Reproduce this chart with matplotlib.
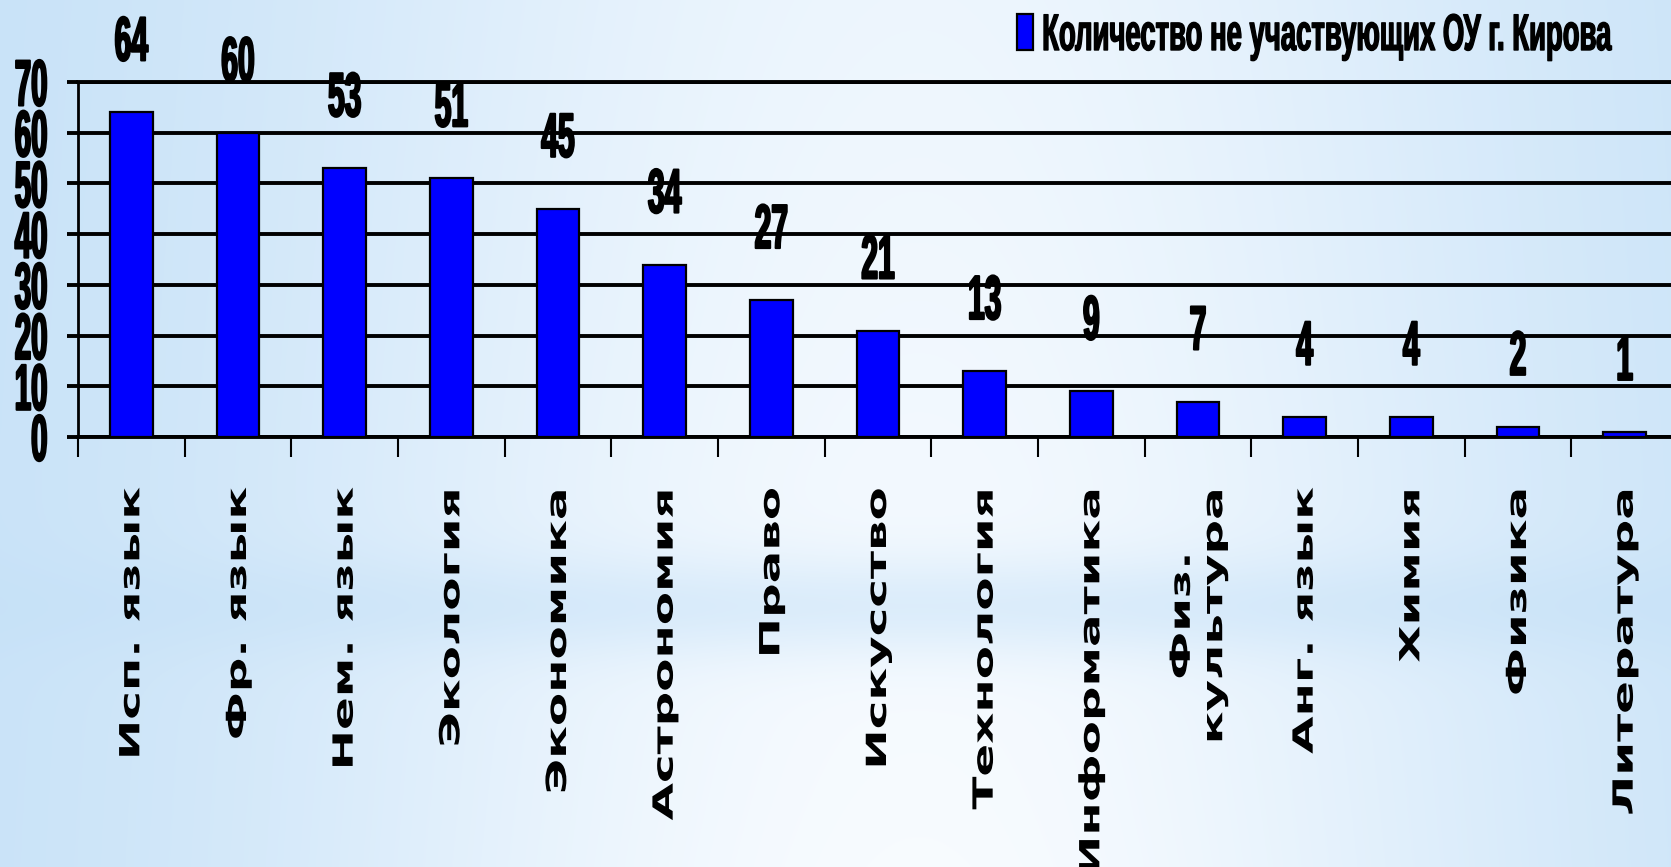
import numpy as np
import matplotlib
matplotlib.use("Agg")
import matplotlib.pyplot as plt
from matplotlib import patheffects
from matplotlib.transforms import Affine2D, ScaledTranslation

subjects = ["Исп. язык", "Фр. язык", "Нем. язык", "Экология", "Экономика",
            "Астрономия", "Право", "Искусство", "Технология", "Информатика",
            "Физ.\nкультура", "Анг. язык", "Химия", "Физика", "Литература"]
counts = [64, 60, 53, 51, 45, 34, 27, 21, 13, 9, 7, 4, 4, 2, 1]
y_ticks = [0, 10, 20, 30, 40, 50, 60, 70]
series_name = "Количество не участвующих ОУ г. Кирова"


class Stretch(patheffects.AbstractPathEffect):
    # squeeze / widen the drawn glyphs around the text's anchor point,
    # optionally with an outline to make them heavier
    def __init__(self, text, sx=1.0, sy=1.0, stroke=0.0):
        super().__init__()
        self.text = text
        self.sx, self.sy = sx, sy
        self.stroke = stroke

    def draw_path(self, renderer, gc, tpath, affine, rgbFace=None):
        px, py = self.text.get_transform().transform(self.text.get_position())
        t = affine + Affine2D().translate(-px, -py).scale(self.sx, self.sy).translate(px, py)
        gc0 = renderer.new_gc()
        gc0.copy_properties(gc)
        if self.stroke and rgbFace is not None:
            gc0.set_linewidth(self.stroke)
            gc0.set_foreground(rgbFace)
            gc0.set_joinstyle("round")
        renderer.draw_path(gc0, tpath, t, rgbFace)
        gc0.restore()


W, H = 1671, 867
fig = plt.figure(figsize=(W / 100, H / 100), dpi=100)

# background gradient
yy, xx = np.mgrid[0:1:434j, 0:1:836j]
light = np.exp(-((xx - 0.55) / 0.38) ** 2) * (0.8 + 0.2 * yy)
band = np.exp(-((yy - 0.70) / 0.06) ** 2)
t = np.clip(light * (1 - 0.5 * band), 0, 1)
dark = np.array([0.77, 0.88, 0.97])
pale = np.array([0.97, 0.985, 1.0])
img = dark + (pale - dark) * t[..., None]
bg = fig.add_axes([0, 0, 1, 1])
bg.imshow(img, aspect="auto", extent=(0, 1, 0, 1), origin="upper")
bg.axis("off")

ax = fig.add_axes([78 / W, 1 - 437 / H, 1600 / W, 355 / H])
ax.patch.set_alpha(0)
x = np.arange(len(subjects))
ax.bar(x, counts, width=0.4, color="#0000ff", edgecolor="black", linewidth=1.6,
       zorder=3, label=series_name)

ax.set_xlim(-0.5, len(subjects) - 0.5)
ax.set_ylim(0, 70)
ax.set_yticks(y_ticks)
ax.yaxis.grid(True, color="black", linewidth=2.8)
ax.set_axisbelow(True)
ax.spines["right"].set_visible(False)
ax.spines["top"].set_linewidth(2.8)
ax.spines["bottom"].set_linewidth(2.8)
ax.spines["left"].set_linewidth(2)

ax.tick_params(axis="y", length=8, width=2.8, pad=14, labelsize=47)
for lbl in ax.get_yticklabels():
    lbl.set_fontfamily("Liberation Sans")
    lbl.set_fontweight("bold")
    lbl.set_path_effects([Stretch(lbl, 0.45, 1, stroke=1.5)])

ax.set_xticks(x)
ax.set_xticklabels(subjects, rotation=90, va="top", ha="center", multialignment="center",
                   fontsize=20, fontfamily="DejaVu Sans", fontweight="bold")
ax.set_xticks(np.arange(-0.5, len(subjects), 1), minor=True)
ax.tick_params(axis="x", which="major", length=0, pad=36)
ax.tick_params(axis="x", which="minor", length=14.4, width=1.5)
for lbl in ax.get_xticklabels():
    lbl.set_path_effects([Stretch(lbl, 1, 1.74)])

offset = ScaledTranslation(0, 0.52, fig.dpi_scale_trans)
for xi, v in zip(x, counts):
    txt = ax.text(xi, v, str(v), transform=ax.transData + offset, ha="center", va="baseline",
                  fontsize=45, fontfamily="Liberation Sans", fontweight="bold")
    txt.set_path_effects([Stretch(txt, 0.48, 1, stroke=1.5)])

leg = ax.legend(loc="upper left", bbox_to_anchor=(1017 / W, 1 - 12 / H),
                bbox_transform=fig.transFigure, frameon=False,
                prop={"family": "Liberation Sans", "weight": "bold", "size": 37},
                handlelength=0.31, handleheight=0.7, handletextpad=0.18,
                borderpad=0, borderaxespad=0)
for txt in leg.get_texts():
    txt.set_path_effects([Stretch(txt, 0.535, 1, stroke=1.0)])

fig.savefig("out.png", dpi=100)
